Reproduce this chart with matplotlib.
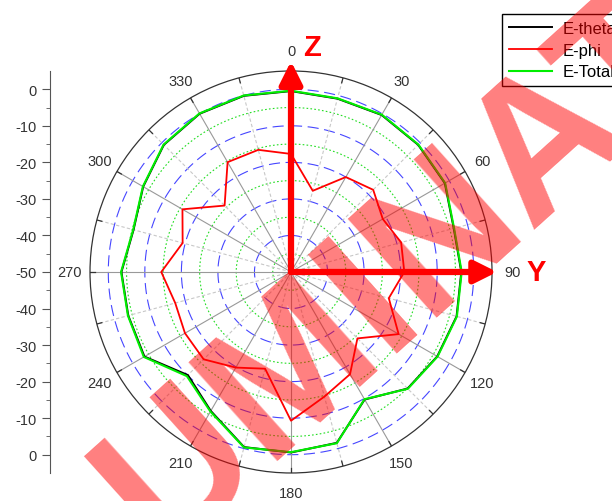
import numpy as np
import matplotlib.pyplot as plt

plt.rcParams.update({"font.family": ["Liberation Sans", "DejaVu Sans"], "font.size": 10})

# Far-field pattern, dB, sampled every 15 degrees
theta_deg = [0, 15, 30, 45, 60, 75, 90, 105, 120, 135, 150, 165,
             180, 195, 210, 225, 240, 255, 270, 285, 300, 315, 330, 345]
e_theta = [-0.5, -0.9, -0.4, -0.8, -1.4, -3.9, -3.4, -3.1, -3.8, -4.9, -9.7, -1.6,
           -0.6, -0.4, -6.1, -10.1, -3.7, -3.9, -3.6, -5.4, -3.3, -0.8, 0.0, -0.1]
e_phi = [-17.7, -27.0, -20.0, -18.2, -21.0, -18.8, -19.0, -22.3, -16.0, -24.3, -17.7, -14.7,
         -9.3, -22.6, -19.8, -16.2, -16.5, -17.2, -14.5, -19.3, -15.7, -24.3, -15.3, -15.4]
e_total = [-0.4, -0.8, -0.3, -0.7, -1.3, -3.8, -3.3, -3.0, -3.7, -4.8, -9.8, -1.5,
           -0.7, -0.3, -5.9, -9.7, -3.5, -3.8, -3.5, -5.3, -3.2, -0.7, 0.1, 0.0]

angle_ticks = [0, 30, 60, 90, 120, 150, 180, 210, 240, 270, 300, 330]
major_rings = [-40, -30, -20, -10, 0]
minor_rings = [-45, -35, -25, -15, -5]
r_min, r_max = -50, 5

# side scale: distance from the centre, upper half positive, lower half negative
side_ticks = [-50, -40, -30, -20, -10, 0, 10, 20, 30, 40, 50]
side_labels = ["0", "-10", "-20", "-30", "-40", "-50", "-40", "-30", "-20", "-10", "0"]
side_minor = [-45, -35, -25, -15, -5, 5, 15, 25, 35, 45]


def closed(vals):
    return np.append(vals, vals[0])


fig = plt.figure(figsize=(6.12, 5.02), dpi=100)
ax = fig.add_axes([0.147, 0.0558, 0.657, 0.8008], projection="polar")
ax.set_theta_zero_location("N")
ax.set_theta_direction(-1)
ax.set_ylim(r_min, r_max)
ax.grid(False)
ax.set_xticks([])
ax.set_yticks([])
ax.spines["polar"].set_color("#333333")
ax.spines["polar"].set_linewidth(0.9)

ring = np.linspace(0, 2 * np.pi, 361)
for lvl in major_rings:
    ax.plot(ring, np.full_like(ring, lvl), color="#4646ff", lw=0.8, dashes=(10, 5), zorder=1)
for lvl in minor_rings:
    ax.plot(ring, np.full_like(ring, lvl), color="#22dd22", lw=0.8, dashes=(1.5, 2), zorder=1)

# spokes: solid every 30 deg, light dashed in between, small ticks at the rim
for a in range(0, 360, 15):
    t = np.deg2rad(a)
    if a % 30 == 0:
        ax.plot([t, t], [r_min, r_max], color="#999999", lw=0.8, zorder=1)
    else:
        ax.plot([t, t], [r_min, r_max], color="#c8c8c8", lw=0.8, dashes=(3, 2), zorder=1)
    ax.plot([t, t], [r_max - 1.4, r_max], color="#333333", lw=0.9, zorder=2)

th = np.deg2rad(closed(theta_deg))
ax.plot(th, closed(e_theta), color="black", lw=1.4, label="E-theta", zorder=4)
ax.plot(th, closed(e_phi), color="red", lw=1.3, label="E-phi", zorder=5)
ax.plot(th, closed(e_total), color="#00ee00", lw=1.5, label="E-Total", zorder=4.5)

for a in angle_ticks:
    ax.text(np.deg2rad(a), 10.5, str(a), ha="center", va="center",
            color="#333333", fontsize=10.5, clip_on=False)

# axis arrows
arrow = dict(arrowstyle="-|>,head_length=0.9,head_width=0.45", color="red", lw=4.5,
             mutation_scale=15, shrinkA=0, shrinkB=0)
ax.annotate("", xy=(0, 7.7), xytext=(0, r_min), arrowprops=arrow, annotation_clip=False, zorder=6)
ax.annotate("", xy=(np.pi / 2, 6.4), xytext=(np.pi / 2, r_min), arrowprops=arrow,
            annotation_clip=False, zorder=6)
fig.text(312 / 612, 1 - 48 / 502, "Z", color="red", fontsize=21, fontweight="bold",
         ha="center", va="center")
fig.text(536 / 612, 1 - 273 / 502, "Y", color="red", fontsize=21, fontweight="bold",
         ha="center", va="center")

# linear scale on the left
axl = fig.add_axes([50 / 612, 0.0558, 0.001, 0.8008])
axl.set_ylim(-55, 55)
axl.patch.set_visible(False)
for s in ["right", "top", "bottom"]:
    axl.spines[s].set_visible(False)
axl.spines["left"].set_color("#555555")
axl.set_xticks([])
axl.set_yticks(side_ticks)
axl.set_yticklabels(side_labels)
axl.set_yticks(side_minor, minor=True)
axl.tick_params(axis="y", which="major", length=6, color="#555555", labelcolor="#333333",
                labelsize=10.5)
axl.tick_params(axis="y", which="minor", length=3, color="#555555")

handles, labels = ax.get_legend_handles_labels()
fig.legend(handles, labels, loc="upper left", bbox_to_anchor=(494 / 612, 1 - 7 / 502),
           fancybox=False, edgecolor="black", framealpha=1, fontsize=12,
           handlelength=2.6, borderpad=0.4, labelspacing=0.4, handletextpad=0.6)

# translucent diagonal stamp across the whole figure
fig.text(0.5685, 0.2303, "ILLUMINATI", color="red", alpha=0.5, fontsize=139,
         fontweight="bold", rotation=42, rotation_mode="anchor",
         ha="center", va="baseline", zorder=10)

fig.savefig("out.png", dpi=100)
